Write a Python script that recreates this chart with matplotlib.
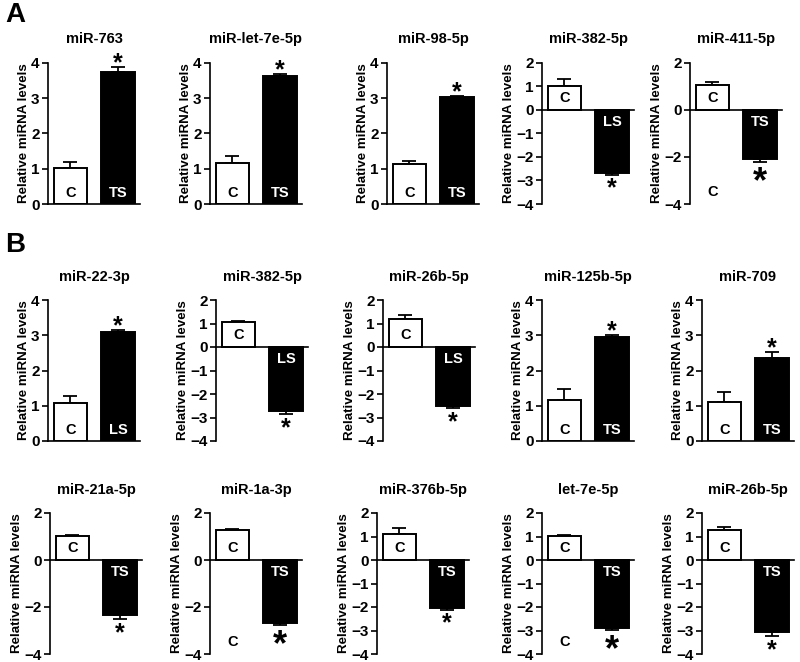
from matplotlib import pyplot as plt
import numpy as np

plt.rcParams['font.family'] = ['Liberation Sans', 'DejaVu Sans']
plt.rcParams['font.weight'] = 'bold'

# panel data, row by row
titles = ['miR-763', 'miR-let-7e-5p', 'miR-98-5p', 'miR-382-5p', 'miR-411-5p',
          'miR-22-3p', 'miR-382-5p', 'miR-26b-5p', 'miR-125b-5p', 'miR-709',
          'miR-21a-5p', 'miR-1a-3p', 'miR-376b-5p', 'let-7e-5p', 'miR-26b-5p']
ctrl_mean = [1.03, 1.15, 1.13, 1.02, 1.07,
             1.08, 1.05, 1.18, 1.15, 1.10,
             1.03, 1.27, 1.10, 1.03, 1.28]
ctrl_err = [0.17, 0.20, 0.08, 0.28, 0.10,
            0.20, 0.05, 0.17, 0.32, 0.28,
            0.04, 0.04, 0.25, 0.03, 0.12]
treat_mean = [3.75, 3.62, 3.02, -2.70, -2.08,
              3.08, -2.72, -2.51, 2.95, 2.35,
              -2.35, -2.70, -2.05, -2.88, -3.05]
treat_err = [0.12, 0.06, 0.05, 0.05, 0.12,
             0.08, 0.15, 0.10, 0.06, 0.18,
             0.15, 0.06, 0.06, 0.08, 0.18]
treat_label = ['TS', 'TS', 'TS', 'LS', 'TS',
               'LS', 'LS', 'LS', 'TS', 'TS',
               'TS', 'TS', 'TS', 'TS', 'TS']
tick_kind = ['pos', 'pos', 'pos', 'all', 'even',
             'pos', 'all', 'all', 'pos', 'pos',
             'even', 'even', 'all', 'all', 'all']
big_star = [False, False, False, False, True,
            False, False, False, False, False,
            False, True, False, True, False]

tick_sets = {'pos': [0, 1, 2, 3, 4],
             'all': [-4, -3, -2, -1, 0, 1, 2],
             'even': [-4, -2, 0, 2]}

W, H = 800, 662
fig = plt.figure(figsize=(W / 100, H / 100), dpi=100)

row_spines = [[48, 210, 387, 542, 690],
              [48, 216, 383, 542, 702],
              [50, 210, 377, 542, 702]]
row_top = [62.7, 300, 513]
row_bot = [204, 441, 654]
ax_w = 92

for i in range(15):
    r, c = divmod(i, 5)
    x0 = row_spines[r][c]
    ax = fig.add_axes([x0 / W, 1 - row_bot[r] / H, ax_w / W, (row_bot[r] - row_top[r]) / H])
    kind = tick_kind[i]
    neg = kind != 'pos'
    ax.bar([0], [ctrl_mean[i]], width=0.7, color='white', edgecolor='black', linewidth=1.4, zorder=2)
    ax.bar([1], [treat_mean[i]], width=0.7, color='black', edgecolor='black', linewidth=1.4, zorder=2)
    ax.errorbar([0], [ctrl_mean[i]], yerr=[[0], [ctrl_err[i]]], fmt='none', ecolor='black',
                elinewidth=1.3, capsize=5, capthick=1.3, zorder=1)
    if treat_mean[i] > 0:
        ax.errorbar([1], [treat_mean[i]], yerr=[[0], [treat_err[i]]], fmt='none', ecolor='black',
                    elinewidth=1.3, capsize=5, capthick=1.3, zorder=1)
    else:
        ax.errorbar([1], [treat_mean[i]], yerr=[[treat_err[i]], [0]], fmt='none', ecolor='black',
                    elinewidth=1.3, capsize=5, capthick=1.3, zorder=1)

    if neg:
        ax.set_ylim(-4, 2)
        ax.text(0, 0.5, 'C', ha='center', va='center', fontsize=10.5, color='black')
        ax.text(1, -0.5, treat_label[i], ha='center', va='center', fontsize=10.5, color='white')
        if big_star[i]:
            ax.text(1, treat_mean[i] - treat_err[i] - 0.9, '*', ha='center', va='center',
                    fontsize=26, color='black')
            ax.text(0, -3.5, 'C', ha='center', va='center', fontsize=10.5, color='black')
        else:
            ax.text(1, treat_mean[i] - treat_err[i] - 0.6, '*', ha='center', va='center',
                    fontsize=18, color='black')
        ax.spines['bottom'].set_position(('data', 0))
    else:
        ax.set_ylim(0, 4)
        ax.text(0, 0.3, 'C', ha='center', va='center', fontsize=10.5, color='black')
        ax.text(1, 0.3, treat_label[i], ha='center', va='center', fontsize=10.5, color='white')
        ax.text(1, treat_mean[i] + treat_err[i] + 0.1, '*', ha='center', va='center',
                fontsize=18, color='black')

    ax.set_xlim(-0.47, 1.46)
    ax.set_yticks(tick_sets[kind])
    ax.set_xticks([])
    ax.tick_params(axis='y', length=4, width=1.2, labelsize=11, pad=2)
    for lab in ax.get_yticklabels():
        lab.set_fontweight('bold')
    ax.spines['top'].set_visible(False)
    ax.spines['right'].set_visible(False)
    ax.spines['left'].set_linewidth(1.2)
    ax.spines['bottom'].set_linewidth(1.2)
    ax.set_ylabel('Relative miRNA levels', fontsize=9.6, fontweight='bold', labelpad=1)
    ax.set_title(titles[i], fontsize=10.5, fontweight='bold', pad=14)

fig.text(5 / W, 1 - 15 / H, 'A', fontsize=20, fontweight='bold', va='center', ha='left')
fig.text(5 / W, 1 - 245 / H, 'B', fontsize=20, fontweight='bold', va='center', ha='left')

plt.savefig('out.png', dpi=100)
plt.close(fig)
